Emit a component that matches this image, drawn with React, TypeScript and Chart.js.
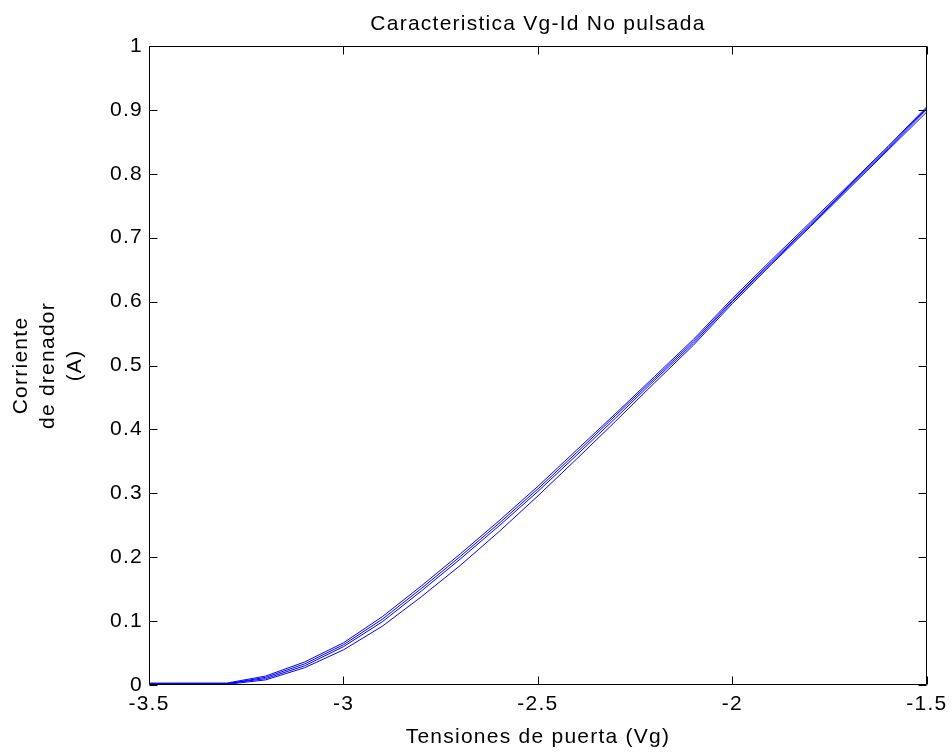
import { useEffect, useRef } from "react";
import { Chart, registerables } from "chart.js";

Chart.register(...registerables);

const vg = [-3.5, -3.4, -3.3, -3.2, -3.1, -3.0, -2.9, -2.8, -2.7, -2.6, -2.5, -2.4, -2.3, -2.2, -2.1, -2.0, -1.9, -1.8, -1.7, -1.6, -1.5];
const idA = [0.003, 0.003, 0.003, 0.014, 0.036, 0.066, 0.107, 0.155, 0.205, 0.257, 0.311, 0.368, 0.425, 0.483, 0.541, 0.605, 0.665, 0.724, 0.783, 0.843, 0.905];
const idB = [0.002, 0.002, 0.002, 0.012, 0.033, 0.063, 0.103, 0.151, 0.201, 0.253, 0.307, 0.364, 0.422, 0.480, 0.538, 0.602, 0.662, 0.721, 0.781, 0.841, 0.903];
const idC = [0.002, 0.002, 0.002, 0.010, 0.030, 0.060, 0.099, 0.147, 0.197, 0.249, 0.303, 0.360, 0.418, 0.477, 0.535, 0.600, 0.660, 0.719, 0.779, 0.839, 0.901];
const idD = [0.001, 0.001, 0.001, 0.008, 0.027, 0.055, 0.092, 0.138, 0.187, 0.240, 0.296, 0.354, 0.413, 0.473, 0.532, 0.597, 0.658, 0.717, 0.777, 0.837, 0.897];
const seriesList = [idA, idB, idC, idD];

const xTicks = [-3.5, -3, -2.5, -2, -1.5];
const yTicks = [0, 0.1, 0.2, 0.3, 0.4, 0.5, 0.6, 0.7, 0.8, 0.9, 1];

const titleText = "Caracteristica Vg-Id No pulsada";
const xTitle = "Tensiones de puerta (Vg)";
const yTitle = ["Corriente", "de drenador", "(A)"];

const FONT = "'Liberation Sans', Arial, Helvetica, sans-serif";
const TICK_LEN = 8;

const framePlugin = {
  id: "matlabFrame",
  beforeDraw(chart: any) {
    try {
      chart.ctx.letterSpacing = "1.25px";
    } catch (e) {}
  },
  afterDraw(chart: any) {
    const { ctx, chartArea: a, scales } = chart;
    const x = scales.x;
    const y = scales.y;
    const L = Math.round(a.left) + 0.5;
    const R = Math.round(a.right) - 0.5;
    const T = Math.round(a.top) + 0.5;
    const B = Math.round(a.bottom) - 0.5;
    ctx.save();
    ctx.strokeStyle = "#000";
    ctx.lineWidth = 1;
    ctx.beginPath();
    ctx.moveTo(L, T);
    ctx.lineTo(R, T);
    ctx.lineTo(R, B);
    ctx.lineTo(L, B);
    ctx.closePath();
    for (const v of xTicks) {
      const p = Math.round(x.getPixelForValue(v)) + 0.5;
      ctx.moveTo(p, B);
      ctx.lineTo(p, B - TICK_LEN);
      ctx.moveTo(p, T);
      ctx.lineTo(p, T + TICK_LEN);
    }
    for (const v of yTicks) {
      const p = Math.round(y.getPixelForValue(v)) + 0.5;
      ctx.moveTo(L, p);
      ctx.lineTo(L + TICK_LEN, p);
      ctx.moveTo(R, p);
      ctx.lineTo(R - TICK_LEN, p);
    }
    ctx.stroke();
    ctx.restore();
  },
};

function fmt(v: number) {
  return String(Number(v.toFixed(2)));
}

export default function App() {
  const ref = useRef<HTMLCanvasElement | null>(null);

  useEffect(() => {
    document.body.style.margin = "0";
    const canvas = ref.current;
    if (!canvas) return;
    const chart = new Chart(canvas, {
      type: "line",
      data: {
        datasets: seriesList.map((s, i) => ({
          label: "Id " + (i + 1),
          data: vg.map((v, j) => ({ x: v, y: s[j] })),
          borderColor: "#0000ff",
          backgroundColor: "#0000ff",
          borderWidth: 1,
          pointRadius: 0,
          tension: 0,
          fill: false,
        })),
      },
      options: {
        animation: false,
        responsive: false,
        maintainAspectRatio: false,
        devicePixelRatio: 1,
        layout: { padding: { left: 0, right: 20, top: 0, bottom: 0 } },
        plugins: {
          legend: { display: false },
          tooltip: { enabled: false },
          title: {
            display: true,
            fullSize: false,
            text: titleText,
            color: "#000",
            font: { family: FONT, size: 21, weight: "normal" },
            padding: { top: 11.4, bottom: 9.4 },
          },
        },
        scales: {
          x: {
            type: "linear",
            min: -3.5,
            max: -1.5,
            afterBuildTicks: (s: any) => {
              s.ticks = xTicks.map((v) => ({ value: v }));
            },
            afterFit: (s: any) => {
              s.height = 69;
            },
            grid: { display: false, drawTicks: false },
            border: { display: false },
            ticks: {
              color: "#000",
              padding: 7,
              maxRotation: 0,
              autoSkip: false,
              font: { family: FONT, size: 21 },
              callback: (v: any) => fmt(Number(v)),
            },
            title: {
              display: true,
              text: xTitle,
              color: "#000",
              font: { family: FONT, size: 21 },
              padding: { top: 0, bottom: 4 },
            },
          },
          y: {
            type: "linear",
            min: 0,
            max: 1,
            afterBuildTicks: (s: any) => {
              s.ticks = yTicks.map((v) => ({ value: v }));
            },
            afterFit: (s: any) => {
              s.width = 149;
            },
            grid: { display: false, drawTicks: false },
            border: { display: false },
            ticks: {
              color: "#000",
              padding: 6,
              autoSkip: false,
              font: { family: FONT, size: 21 },
              callback: (v: any) => fmt(Number(v)),
            },
            title: {
              display: true,
              text: yTitle,
              color: "#000",
              font: { family: FONT, size: 21, lineHeight: 27 / 21 },
              padding: { top: 7.5, bottom: 0 },
            },
          },
        },
      },
      plugins: [framePlugin],
    } as any);
    return () => chart.destroy();
  }, []);

  return (
    <div style={{ position: "absolute", left: 0, top: 0, width: 952, height: 754, background: "#fff" }}>
      <canvas ref={ref} width={952} height={754} style={{ display: "block", width: 952, height: 754 }} />
    </div>
  );
}
